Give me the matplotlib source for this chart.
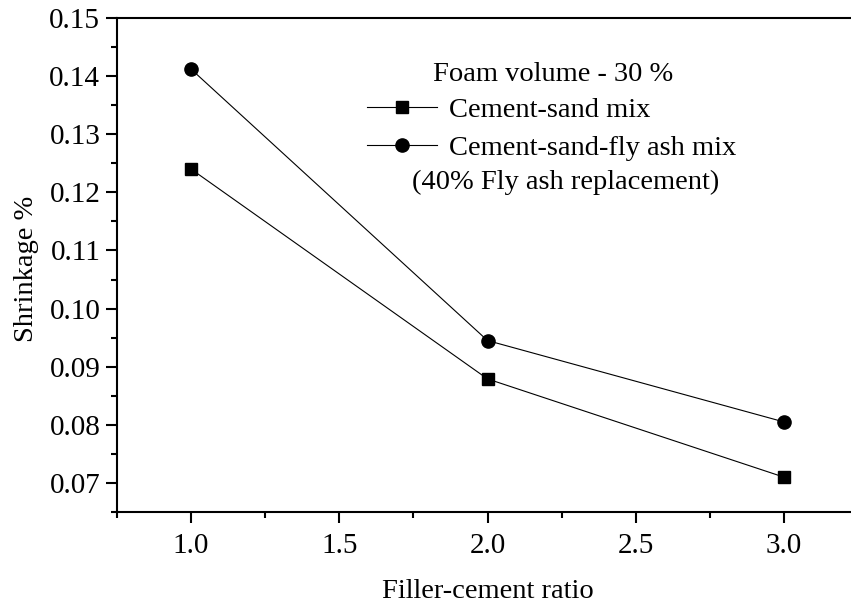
import numpy as np
import matplotlib
matplotlib.use("Agg")
import matplotlib.pyplot as plt
from matplotlib.ticker import MultipleLocator

# filler-cement ratio vs drying shrinkage, foam volume 30 %
ratio = [1.0, 2.0, 3.0]
shrink_sand = [0.1240, 0.0879, 0.0710]
shrink_flyash = [0.1412, 0.0945, 0.0805]

plt.rcParams['font.family'] = ['Liberation Serif', 'DejaVu Serif']
fs = 20.5

fig = plt.figure(figsize=(8.51, 6.08), dpi=100)
ax = fig.add_axes([117 / 851, 1 - 512 / 608, (858 - 117) / 851, (512 - 18) / 608])

ax.plot(ratio, shrink_sand, color='black', lw=0.8, marker='s', ms=8.5,
        label='Cement-sand mix')
ax.plot(ratio, shrink_flyash, color='black', lw=0.8, marker='o', ms=9.5,
        label='Cement-sand-fly ash mix')

ax.set_xlim(0.75, 3.25)
ax.set_ylim(0.065, 0.15)
ax.xaxis.set_major_locator(MultipleLocator(0.5))
ax.xaxis.set_minor_locator(MultipleLocator(0.25))
ax.yaxis.set_major_locator(MultipleLocator(0.01))
ax.yaxis.set_minor_locator(MultipleLocator(0.005))
ax.xaxis.set_major_formatter(lambda v, p: f"{v:.1f}")
ax.yaxis.set_major_formatter(lambda v, p: f"{v:.2f}")

ax.tick_params(which='both', direction='out', width=1.5, labelsize=21,
               top=False, right=False)
ax.tick_params(which='major', length=8, pad=4)
ax.tick_params(axis='x', which='major', pad=7)
ax.tick_params(which='minor', length=4.5)
for s in ax.spines.values():
    s.set_linewidth(1.5)
ax.spines['right'].set_visible(False)

ax.set_xlabel('Filler-cement ratio', fontsize=fs)
ax.xaxis.set_label_coords(0.5, -(579 - 512) / 494)
ax.set_ylabel('Shrinkage %', fontsize=fs)
ax.yaxis.set_label_coords(-(117 - 39) / 741, 0.492)

# legend block: heading, two series, footnote
ax.text(0.588, 0.885, 'Foam volume - 30 %', transform=ax.transAxes,
        fontsize=fs, ha='center', va='center')
ax.legend(loc='upper left', bbox_to_anchor=(0.3376, 0.84), frameon=False,
          fontsize=fs, handlelength=2.45, handletextpad=0.42,
          labelspacing=0.43, borderpad=0, borderaxespad=0)
ax.text(0.605, 0.668, '(40% Fly ash replacement)', transform=ax.transAxes,
        fontsize=fs, ha='center', va='center')

fig.savefig('out.png', dpi=100)
